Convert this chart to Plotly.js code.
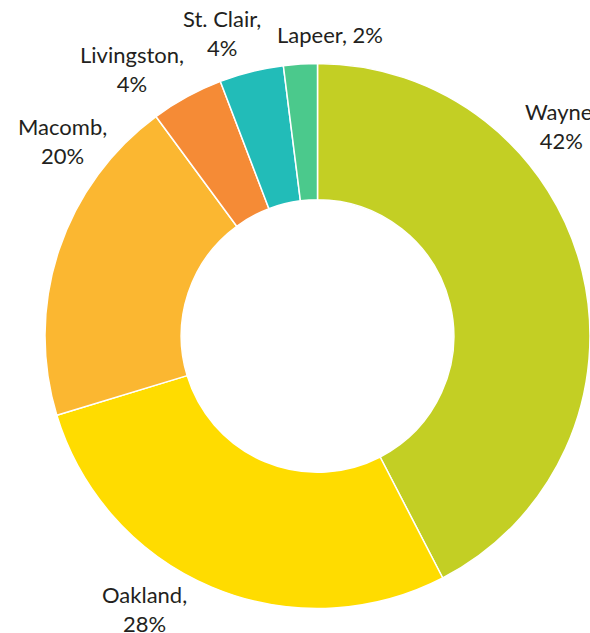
<!DOCTYPE html>
<html>
<head>
<meta charset="utf-8">
<script src="https://cdn.plot.ly/plotly-3.0.1.min.js"></script>
<style>html,body{margin:0;padding:0;background:#fff;}#chart{width:590px;height:633px;}</style>
</head>
<body>
<div id="chart"></div>
<script>
const counties = ["Wayne", "Oakland", "Macomb", "Livingston", "St. Clair", "Lapeer"];
const shares = [42.4, 27.9, 19.6, 4.3, 3.8, 2.0];
const colors = ["#c3cf24", "#ffdc00", "#fbb731", "#f58b36", "#22bcb8", "#4bc98c"];
const labelText = ["Wayne,<br>42%", "Oakland,<br>28%", "Macomb,<br>20%", "Livingston,<br>4%", "St. Clair,<br>4%", "Lapeer, 2%"];
// label anchor positions (pixels in the 590x633 canvas)
const labelPos = [[561, 126], [144, 609], [62, 141], [132, 69], [222, 33], [330, 35]];

const W = 590, H = 633;
const annotations = labelText.map((t, i) => ({
  text: t, xref: "paper", yref: "paper",
  x: labelPos[i][0] / W, y: 1 - labelPos[i][1] / H,
  xanchor: "center", yanchor: "middle", showarrow: false, align: "center",
  font: {family: "Lato, 'Open Sans', sans-serif", size: 22, color: "#231f20"}
}));

Plotly.newPlot("chart", [{
  type: "pie",
  labels: counties,
  values: shares,
  hole: 0.5,
  sort: false,
  direction: "clockwise",
  rotation: 0,
  textinfo: "none",
  hoverinfo: "none",
  marker: {colors: colors, line: {color: "#ffffff", width: 1.5}},
  domain: {x: [45 / W, 1], y: [1 - 609 / H, 1 - 63 / H]}
}], {
  width: W, height: H,
  margin: {l: 0, r: 0, t: 0, b: 0},
  showlegend: false,
  paper_bgcolor: "#ffffff",
  annotations: annotations
}, {displayModeBar: false, staticPlot: true});
</script>
</body>
</html>
